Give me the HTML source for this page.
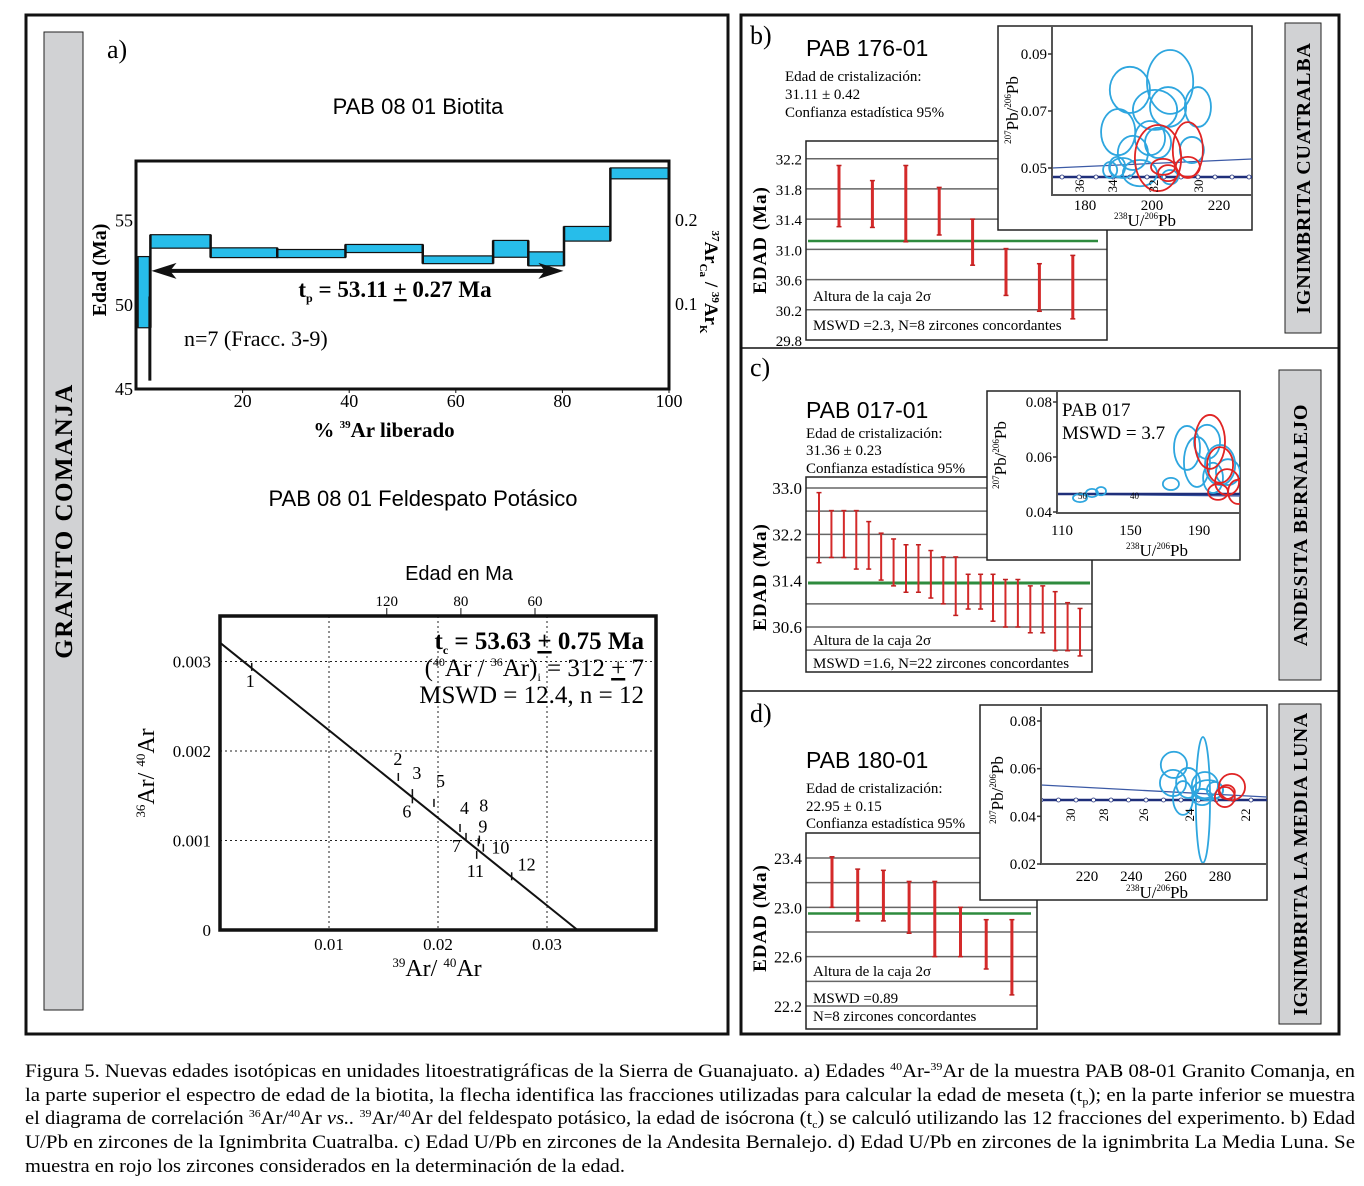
<!DOCTYPE html>
<html><head><meta charset="utf-8">
<style>
html,body{margin:0;padding:0;background:#fff;}
svg{display:block;font-family:"Liberation Serif",serif;}
</style></head>
<body>
<svg id="fig" width="1364" height="1186" viewBox="0 0 1364 1186" xmlns="http://www.w3.org/2000/svg">
<!-- panel frames -->
<rect x="26" y="15" width="702" height="1019" fill="none" stroke="#111" stroke-width="3"/>
<rect x="741" y="15" width="598" height="1019" fill="none" stroke="#111" stroke-width="3"/>
<line x1="741" y1="348" x2="1339" y2="348" stroke="#111" stroke-width="1.5"/>
<line x1="741" y1="691" x2="1339" y2="691" stroke="#111" stroke-width="1.5"/>
<!-- side bars -->
<rect x="44" y="32" width="39" height="978" fill="#d1d2d4" stroke="#222" stroke-width="1"/>
<text transform="translate(72,521) rotate(-90)" text-anchor="middle" font-size="25" font-weight="bold" letter-spacing="1.5">GRANITO COMANJA</text>
<rect x="1285" y="23" width="36" height="310" fill="#d1d2d4" stroke="#222"/>
<text transform="translate(1310,178) rotate(-90)" text-anchor="middle" font-size="20" font-weight="bold" letter-spacing="0.8">IGNIMBRITA CUATRALBA</text>
<rect x="1279" y="370" width="42" height="310" fill="#d1d2d4" stroke="#222"/>
<text transform="translate(1307,525) rotate(-90)" text-anchor="middle" font-size="20" font-weight="bold" letter-spacing="0.8">ANDESITA BERNALEJO</text>
<rect x="1279" y="704" width="42" height="320" fill="#d1d2d4" stroke="#222"/>
<text transform="translate(1307,864) rotate(-90)" text-anchor="middle" font-size="20" font-weight="bold" letter-spacing="0.5">IGNIMBRITA LA MEDIA LUNA</text>

<!-- panel a texts -->
<text x="107" y="58" font-size="26">a)</text>
<text x="418" y="114" text-anchor="middle" font-size="22" font-family="Liberation Sans,sans-serif">PAB 08 01 Biotita</text>
<text transform="translate(106,270) rotate(-90)" text-anchor="middle" font-size="20" font-weight="bold">Edad (Ma)</text>
<text transform="translate(705,282) rotate(90)" text-anchor="middle" font-size="19" font-weight="bold"><tspan font-size="11" dy="-7">37</tspan><tspan dy="7">Ar</tspan><tspan font-size="11" dy="5">Ca</tspan><tspan dy="-5"> / </tspan><tspan font-size="11" dy="-7">39</tspan><tspan dy="7">Ar</tspan><tspan font-size="11" dy="5">K</tspan></text>
<text x="384" y="437" text-anchor="middle" font-size="21" font-weight="bold">% <tspan font-size="11" dy="-9">39</tspan><tspan dy="9">Ar liberado</tspan></text>
<text x="423" y="506" text-anchor="middle" font-size="22" font-family="Liberation Sans,sans-serif">PAB 08 01 Feldespato Potásico</text>
<text x="459" y="580" text-anchor="middle" font-size="20" font-family="Liberation Sans,sans-serif">Edad en Ma</text>
<text transform="translate(154,773) rotate(-90)" text-anchor="middle" font-size="24"><tspan font-size="13" dy="-9">36</tspan><tspan dy="9">Ar/ </tspan><tspan font-size="13" dy="-9">40</tspan><tspan dy="9">Ar</tspan></text>
<text x="437" y="976" text-anchor="middle" font-size="24"><tspan font-size="13" dy="-9">39</tspan><tspan dy="9">Ar/ </tspan><tspan font-size="13" dy="-9">40</tspan><tspan dy="9">Ar</tspan></text>
<g id="spectrum"></g>
<g id="isochron"></g>
<text x="644" y="649" text-anchor="end" font-size="25" font-weight="bold">t<tspan font-size="12" dy="5">c</tspan><tspan dy="-5"> = 53.63 </tspan><tspan text-decoration="underline">+</tspan> 0.75 Ma</text>
<text x="644" y="676" text-anchor="end" font-size="25">(<tspan font-size="12" dy="-10">40</tspan><tspan dy="10">Ar / </tspan><tspan font-size="12" dy="-10">36</tspan><tspan dy="10">Ar)</tspan><tspan font-size="12" dy="5">i</tspan><tspan dy="-5"> = 312 </tspan><tspan text-decoration="underline">+</tspan> 7</text>
<text x="644" y="703" text-anchor="end" font-size="25">MSWD = 12.4, n = 12</text>

<!-- panel b texts -->
<text x="750" y="44" font-size="26">b)</text>
<text x="806" y="56" font-size="23" font-family="Liberation Sans,sans-serif">PAB 176-01</text>
<text x="785" y="81" font-size="15">Edad de cristalización:</text>
<text x="785" y="99" font-size="15">31.11 ± 0.42</text>
<text x="785" y="117" font-size="15">Confianza estadística 95%</text>
<text transform="translate(766,240) rotate(-90)" text-anchor="middle" font-size="19" font-weight="bold" letter-spacing="1">EDAD (Ma)</text>
<!-- panel c texts -->
<text x="750" y="376" font-size="26">c)</text>
<text x="806" y="418" font-size="23" font-family="Liberation Sans,sans-serif">PAB 017-01</text>
<text x="806" y="438" font-size="15">Edad de cristalización:</text>
<text x="806" y="455" font-size="15">31.36 ± 0.23</text>
<text x="806" y="473" font-size="15">Confianza estadística 95%</text>
<text transform="translate(766,577) rotate(-90)" text-anchor="middle" font-size="19" font-weight="bold" letter-spacing="1">EDAD (Ma)</text>
<!-- panel d texts -->
<text x="750" y="722" font-size="26">d)</text>
<text x="806" y="768" font-size="23" font-family="Liberation Sans,sans-serif">PAB 180-01</text>
<text x="806" y="793" font-size="15">Edad de cristalización:</text>
<text x="806" y="811" font-size="15">22.95 ± 0.15</text>
<text x="806" y="828" font-size="15">Confianza estadística 95%</text>
<text transform="translate(766,918) rotate(-90)" text-anchor="middle" font-size="19" font-weight="bold" letter-spacing="1">EDAD (Ma)</text>

<g id="barsB"></g>
<g id="barsC"></g>
<g id="barsD"></g>
<g id="insetB"></g>
<g id="insetC"></g>
<g id="insetD"></g>

<!-- caption -->
<g font-size="19">
<text x="25" y="1077" textLength="1330" lengthAdjust="spacingAndGlyphs">Figura 5. Nuevas edades isotópicas en unidades litoestratigráficas de la Sierra de Guanajuato. a) Edades <tspan font-size="11" dy="-7">40</tspan><tspan dy="7">Ar-</tspan><tspan font-size="11" dy="-7">39</tspan><tspan dy="7">Ar de la muestra PAB 08-01 Granito Comanja, en</tspan></text>
<text x="25" y="1101" textLength="1330" lengthAdjust="spacingAndGlyphs">la parte superior el espectro de edad de la biotita, la flecha identifica las fracciones utilizadas para calcular la edad de meseta (t<tspan font-size="11" dy="4">p</tspan><tspan dy="-4">); en la parte inferior se muestra</tspan></text>
<text x="25" y="1124" textLength="1330" lengthAdjust="spacingAndGlyphs">el diagrama de correlación <tspan font-size="11" dy="-7">36</tspan><tspan dy="7">Ar/</tspan><tspan font-size="11" dy="-7">40</tspan><tspan dy="7">Ar </tspan><tspan font-style="italic">vs..</tspan> <tspan font-size="11" dy="-7">39</tspan><tspan dy="7">Ar/</tspan><tspan font-size="11" dy="-7">40</tspan><tspan dy="7">Ar del feldespato potásico, la edad de isócrona (t</tspan><tspan font-size="11" dy="4">c</tspan><tspan dy="-4">) se calculó utilizando las 12 fracciones del experimento. b) Edad</tspan></text>
<text x="25" y="1148" textLength="1330" lengthAdjust="spacingAndGlyphs">U/Pb en zircones de la Ignimbrita Cuatralba. c) Edad U/Pb en zircones de la Andesita Bernalejo. d) Edad U/Pb en zircones de la ignimbrita La Media Luna. Se</text>
<text x="25" y="1172" textLength="600" lengthAdjust="spacingAndGlyphs">muestra en rojo los zircones considerados en la determinación de la edad.</text>
</g>
</svg>
<script>
// ---------- DATA ----------
// Age spectrum (biotite)
const specCumStart = [0.4, 2.7, 14.0, 26.5, 39.3, 53.8, 67.0, 73.6, 80.3, 89.0];
const specCumEnd   = [2.5, 14.0, 26.5, 39.3, 53.8, 67.0, 73.6, 80.3, 89.0, 100];
const specAgeHigh  = [52.87, 54.17, 53.39, 53.29, 53.59, 52.91, 53.83, 53.15, 54.66, 58.14];
const specAgeLow   = [48.64, 53.37, 52.81, 52.81, 53.11, 52.45, 52.83, 52.32, 53.79, 57.49];
const specXTicks = [20, 40, 60, 80, 100];
const specYTicks = [45, 50, 55];
const specY2Ticks = ["0.1", "0.2"];
// Isochron (K-feldspar)
const isoLabels = ["1","2","3","4","5","6","7","8","9","10","11","12"];
const isoX = [0.00291, 0.01636, 0.01765, 0.02202, 0.01963, 0.01765, 0.02257, 0.02379, 0.02370, 0.02416, 0.02355, 0.02676];
const isoY = [0.00294, 0.00171, 0.00153, 0.00114, 0.00142, 0.00146, 0.00104, 0.00101, 0.00098, 0.00092, 0.00084, 0.00060];
const isoYIntercept = 0.00321;
const isoXIntercept = 0.0328;
const isoXTicks = [0.01, 0.02, 0.03];
const isoYTicks = [0, 0.001, 0.002, 0.003];
const isoAgeTicks = [120, 80, 60];
const isoAgeTickX = [0.0153, 0.0221, 0.0289];
// Weighted mean B
const bLow  = [31.30, 31.29, 31.10, 31.19, 30.79, 30.39, 30.18, 30.08];
const bHigh = [32.11, 31.91, 32.11, 31.82, 31.40, 31.01, 30.81, 30.92];
const bMean = 31.11;
const bTicks = [29.8, 30.2, 30.6, 31.0, 31.4, 31.8, 32.2];
// Weighted mean C
const cLow  = [31.71,31.80,31.80,31.60,31.60,31.41,31.31,31.20,31.20,31.10,31.00,30.80,30.91,30.91,30.70,30.60,30.60,30.50,30.50,30.19,30.19,30.10];
const cHigh = [32.92,32.61,32.61,32.61,32.42,32.22,32.12,32.02,32.02,31.92,31.81,31.81,31.51,31.51,31.51,31.42,31.42,31.31,31.31,31.21,31.02,30.92];
const cMean = 31.36;
const cTicks = [30.6, 31.4, 32.2, 33.0];
const cGrid = [30.2, 30.6, 31.0, 31.8, 32.2, 32.6, 33.0];
// Weighted mean D
const dLow  = [23.00, 22.89, 22.89, 22.79, 22.60, 22.60, 22.50, 22.29];
const dHigh = [23.41, 23.31, 23.30, 23.21, 23.21, 23.00, 22.90, 22.90];
const dMean = 22.95;
const dTicks = [22.2, 22.6, 23.0, 23.4];
const dGrid = [22.2, 22.4, 22.6, 22.8, 23.0, 23.2, 23.4];
// Concordia insets: ellipses in data units (238U/206Pb, 207Pb/206Pb)
const ebX  = [193.4,205.4,204.8,200.9,213.7,189.9,199.4,201.8,211.9,194.3,189.6,191.3,187.5,196.4,205.4];
const ebY  = [.0774,.0802,.0714,.0704,.0714,.0626,.0605,.0588,.0563,.0553,.0504,.0500,.0493,.0482,.0468];
const ebRx = [6.0,6.9,5.4,6.6,3.9,5.1,4.5,3.9,3.6,4.5,2.4,3.9,2.1,5.1,2.4];
const ebRy = [.0081,.0112,.0070,.0070,.0070,.0081,.0060,.0053,.0046,.0060,.0035,.0035,.0028,.0046,.0025];
const rbX  = [201.8,210.7,203.3,210.7,204.8];
const rbY  = [.0535,.0563,.0504,.0504,.0482];
const rbRx = [6.9,4.5,3.6,3.6,3.0];
const rbRy = [.0116,.0098,.0028,.0035,.0028];
const ecX  = [120.5,127.5,132.8,173.6,183.0,188.8,194.7,202.3,198.2,206.9];
const ecY  = [.0451,.0469,.0476,.0502,.0633,.0582,.0655,.0571,.0524,.0545];
const ecRx = [4.1,3.5,2.9,4.7,7.6,7.6,7.6,8.8,5.8,7.0];
const ecRy = [.0015,.0015,.0015,.0022,.0080,.0091,.0062,.0073,.0055,.0047];
const rcX  = [196.4,202.3,206.4,212.8,201.1];
const rcY  = [.0655,.0571,.0509,.0473,.0473];
const rcRx = [8.8,7.6,7.0,5.8,5.8];
const rcRy = [.0098,.0065,.0047,.0044,.0029];
const edX  = [259.2,258.8,265.6,263.3,272.3,273.2,274.6,271.9,277.7];
const edY  = [.0616,.0540,.0540,.0477,.0469,.0531,.0510,.0481,.0510];
const edRx = [5.9,5.9,5.4,4.5,3.2,5.9,6.8,4.5,3.6];
const edRy = [.0055,.0055,.0063,.0071,.0264,.0055,.0042,.0034,.0034];
const rdX  = [285.4,282.2,283.1];
const rdY  = [.0523,.0481,.0502];
const rdRx = [5.9,4.5,3.6];
const rdRy = [.0055,.0042,.0029];

// ---------- HELPERS ----------
const NS = "http://www.w3.org/2000/svg";
function mk(tag, attrs, parent){ const e=document.createElementNS(NS,tag); for(const k in attrs) e.setAttribute(k,attrs[k]); parent.appendChild(e); return e; }
function lin(d0,d1,r0,r1){ return v => r0 + (v-d0)*(r1-r0)/(d1-d0); }

// ---------- SPECTRUM ----------
(function(){
  const g = document.getElementById('spectrum');
  const L=136,R=669,T=161,B=389;
  const sx = lin(0,100,L,R), sy = lin(45,58.55,B,T);
  for(let i=0;i<specCumStart.length;i++){
    const r = mk('rect',{x:sx(specCumStart[i]),y:sy(specAgeHigh[i]),width:sx(specCumEnd[i])-sx(specCumStart[i]),height:sy(specAgeLow[i])-sy(specAgeHigh[i]),fill:'#27bdea',stroke:'#111','stroke-width':1.2},g);
    
    
    if(i>0){
      const y1 = sy(Math.min(specAgeLow[i-1],specAgeLow[i])), y2 = sy(Math.max(specAgeHigh[i-1],specAgeHigh[i]));
      const c = mk('line',{x1:sx(specCumStart[i]),x2:sx(specCumStart[i]),y1:y1,y2:y2,stroke:'#111','stroke-width':2.5},g);
      
      
    }
  }
  const v = mk('line',{x1:sx(2.6),x2:sx(2.6),y1:sy(45.5),y2:sy(50.5),stroke:'#111','stroke-width':3},g);
  
  
  const fr = mk('rect',{x:L,y:T,width:R-L,height:B-T,fill:'none',stroke:'#111','stroke-width':3},g);
  
  
  specXTicks.forEach(t=>{
    const tl = mk('text',{x:sx(t),y:B+18,'text-anchor':'middle','font-size':18},g); tl.textContent=t;
    
    
    mk('line',{x1:sx(t),x2:sx(t),y1:B,y2:B+4,stroke:'#111'},g);
  });
  specYTicks.forEach(t=>{
    const tl = mk('text',{x:L-3,y:sy(t)+6,'text-anchor':'end','font-size':18},g); tl.textContent=t;
    
    
  });
  specY2Ticks.forEach((t,i)=>{
    const tl = mk('text',{x:R+6,y:[310,226][i],'font-size':18},g); tl.textContent=t;
    
    
  });
  const ay = sy(52.02);
  const ar = mk('line',{x1:sx(5),x2:sx(77),y1:ay,y2:ay,stroke:'#111','stroke-width':4},g);
  
  
  const h1 = mk('polygon',{points:`${sx(2.9)},${ay} ${sx(7.6)},${ay-8} ${sx(6.4)},${ay} ${sx(7.6)},${ay+8}`,fill:'#111'},g);
  
  
  const h2 = mk('polygon',{points:`${sx(80.2)},${ay} ${sx(75.5)},${ay-8} ${sx(76.7)},${ay} ${sx(75.5)},${ay+8}`,fill:'#111'},g);
  
  
  const tp = mk('text',{x:395,y:297,'text-anchor':'middle','font-size':23,'font-weight':'bold'},g);
  tp.innerHTML = 't<tspan font-size="12" dy="5">p</tspan><tspan dy="-5"> = 53.11 </tspan><tspan text-decoration="underline">+</tspan> 0.27 Ma';
  
  
  const nl = mk('text',{x:184,y:346,'font-size':22},g); nl.textContent='n=7 (Fracc. 3-9)';
  
  
})();

// ---------- ISOCHRON ----------
(function(){
  const g = document.getElementById('isochron');
  const L=220,R=656,T=616,B=930;
  const sx = lin(0,0.01,L,329), sy = lin(0,0.001,B,840.5);
  isoXTicks.forEach(t=>{
    const gl = mk('line',{x1:sx(t),x2:sx(t),y1:T,y2:B,stroke:'#222','stroke-dasharray':'2,3'},g);
    
    
    const tl = mk('text',{x:sx(t),y:B+20,'text-anchor':'middle','font-size':17},g); tl.textContent=t.toFixed(2);
    
    
  });
  isoYTicks.forEach(t=>{
    if(t>0){
      const gl = mk('line',{x1:L,x2:R,y1:sy(t),y2:sy(t),stroke:'#222','stroke-dasharray':'2,3'},g);
      
      
    }
    const tl = mk('text',{x:L-9,y:sy(t)+6,'text-anchor':'end','font-size':17},g); tl.textContent = t===0?'0':t.toFixed(3);
    
    
  });
  isoAgeTicks.forEach((t,i)=>{
    const x = sx(isoAgeTickX[i]);
    mk('line',{x1:x,x2:x,y1:T-8,y2:T,stroke:'#111'},g);
    const tl = mk('text',{x:x,y:T-10,'text-anchor':'middle','font-size':15},g); tl.textContent=t;
    
    
  });
  const ln = mk('line',{x1:sx(0),y1:sy(isoYIntercept),x2:sx(isoXIntercept),y2:sy(0),stroke:'#111','stroke-width':2},g);
  
  
  const off = [[-6,20],[-5,-12],[0,-14],[0,-14],[2,-16],[-10,18],[-14,15],[0,-28],[0,-10],[8,6],[-10,22],[6,-6]];
  isoX.forEach((xv,i)=>{
    const px=sx(xv), py=sy(isoY[i]);
    const m = mk('line',{x1:px,x2:px,y1:py-4,y2:py+4,stroke:'#111','stroke-width':1.5},g);
    
    
    const tl = mk('text',{x:px+off[i][0],y:py+off[i][1],'font-size':18},g); tl.textContent=isoLabels[i];
    
    
  });
  const fr = mk('rect',{x:L,y:T,width:R-L,height:B-T,fill:'none',stroke:'#111','stroke-width':3.5},g);
  
  
})();

// ---------- WEIGHTED MEAN BARS ----------
function drawBars(id, box, y0, y1, lows, highs, mean, grid, ticks, firstX, step, lbl, lw){
  const g = document.getElementById(id);
  const sy = lin(y0,y1,box.B,box.T);
  mk('rect',{x:box.L,y:box.T,width:box.R-box.L,height:box.B-box.T,fill:'#fff',stroke:'none'},g);
  grid.forEach(t=>{
    const gl = mk('line',{x1:box.L,x2:box.R,y1:sy(t),y2:sy(t),stroke:'#666','stroke-width':1.5},g);
    
    
  });
  ticks.forEach(t=>{
    const tl = mk('text',{x:box.L-4,y:sy(t)+6,'text-anchor':'end','font-size':box.fs},g); tl.textContent=t.toFixed(1);
    
    
  });
  const mn = mk('line',{x1:box.L+2,x2:box.mR,y1:sy(mean),y2:sy(mean),stroke:'#2e8b3e','stroke-width':box.mw},g);
  
  
  lows.forEach((lo,i)=>{
    const x = firstX + i*step;
    const b = mk('line',{x1:x,x2:x,y1:sy(highs[i]),y2:sy(lo),stroke:'#d42a2a','stroke-width':lw},g);
    
    
    mk('line',{x1:x-2.5,x2:x+2.5,y1:sy(highs[i]),y2:sy(highs[i]),stroke:'#c02020','stroke-width':1.5},g);
    mk('line',{x1:x-2.5,x2:x+2.5,y1:sy(lo),y2:sy(lo),stroke:'#c02020','stroke-width':1.5},g);
  });
  lbl.forEach(l=>{
    const t = mk('text',{x:box.L+7,y:l[1],'font-size':15},g); t.textContent=l[0];
    
    
  });
  const fr = mk('rect',{x:box.L,y:box.T,width:box.R-box.L,height:box.B-box.T,fill:'none',stroke:'#222','stroke-width':1.5},g);
  
  
}
drawBars('barsB',{L:806,R:1107,T:141,B:340,mR:1098,fs:15,mw:2.5},29.8,32.2+(158.7-141)/75.6,bLow,bHigh,bMean,[30.2,30.6,31.0,31.4,31.8,32.2],bTicks,839,33.4,
  [["Altura de la caja 2σ",301],["MSWD =2.3, N=8 zircones concordantes",330]],3);
drawBars('barsC',{L:806,R:1092,T:477,B:672,mR:1090,fs:17,mw:3},30.6-(672-627)/57.9,33.0+(488-477)/57.9,cLow,cHigh,cMean,cGrid,cTicks,819,12.43,
  [["Altura de la caja 2σ",645],["MSWD =1.6, N=22 zircones concordantes",668]],2);
drawBars('barsD',{L:806,R:1037,T:833,B:1029,mR:1031,fs:16,mw:2.5},22.2-(1029-1006)/123.3,23.4+(858-833)/123.3,dLow,dHigh,dMean,dGrid,dTicks,832,25.7,
  [["Altura de la caja 2σ",976],["MSWD =0.89",1003],["N=8 zircones concordantes",1021]],3);

// ---------- CONCORDIA INSETS ----------
function drawInset(id, box, ax, xd, yd, xticks, yticks, blue, red, conc, light, ageLbls, extra){
  const g = document.getElementById(id);
  const bg = mk('rect',{x:box.x,y:box.y,width:box.w,height:box.h,fill:'#fff',stroke:'#222','stroke-width':1.5},g);
  
  
  const sx = lin(xd[0],xd[1],xd[2],xd[3]), sy = lin(yd[0],yd[1],yd[2],yd[3]);
  const cp = mk('clipPath',{id:id+'clip'},g);
  mk('rect',{x:ax.L,y:ax.T,width:ax.R-ax.L,height:ax.B-ax.T},cp);
  const pg = mk('g',{'clip-path':`url(#${id}clip)`},g);
  const l1 = mk('line',{x1:ax.L,x2:ax.R,y1:light[0],y2:light[1],stroke:'#3c5aa6','stroke-width':1.3},pg);
  
  
  const l2 = mk('line',{x1:ax.L,x2:ax.R,y1:conc,y2:conc,stroke:'#1f2f7a','stroke-width':2.5},pg);
  
  
  for(let x=ax.L+extra.dot0;x<ax.R;x+=extra.dotStep){ mk('circle',{cx:x,cy:conc,r:2,fill:'#fff',stroke:'#1f2f7a','stroke-width':0.8},pg); }
  const drawE = (arr,color,nm)=>{
    arr[0].forEach((xv,i)=>{
      const e = mk('ellipse',{cx:sx(xv),cy:sy(arr[1][i]),rx:Math.abs(sx(arr[2][i])-sx(0)),ry:Math.abs(sy(arr[3][i])-sy(0)),fill:'none',stroke:color,'stroke-width':1.8},pg);
      
      
    });
  };
  drawE(blue,'#2ea6df','zircon-ellipse');
  drawE(red,'#e02424','zircon-ellipse-selected');
  ageLbls.forEach(a=>{
    const t = mk('text',{transform:`translate(${a[1]},${a[2]}) rotate(-90)`,'font-size':extra.agefs,'text-anchor':'middle'},g); t.textContent=a[0];
    
    
  });
  const af = mk('path',{d:`M${ax.L},${ax.T} L${ax.L},${ax.B} L${ax.R},${ax.B}`,fill:'none',stroke:'#555','stroke-width':2},g);
  
  
  xticks.forEach(t=>{
    const tl = mk('text',{x:sx(t),y:ax.B+extra.xtdy,'text-anchor':'middle','font-size':extra.fs},g); tl.textContent=t;
    
    
  });
  yticks.forEach(t=>{
    mk('line',{x1:ax.L-4,x2:ax.L,y1:sy(t),y2:sy(t),stroke:'#333','stroke-width':1.5},g);
    const tl = mk('text',{x:ax.L-5,y:sy(t)+5,'text-anchor':'end','font-size':extra.fs},g); tl.textContent=t.toFixed(2);
    
    
  });
  const xt = mk('text',{x:extra.xtx,y:extra.xty,'text-anchor':'middle','font-size':extra.fs+2},g);
  xt.innerHTML='<tspan font-size="9" dy="-7">238</tspan><tspan dy="7">U/</tspan><tspan font-size="9" dy="-7">206</tspan><tspan dy="7">Pb</tspan>';
  
  
  const yt = mk('text',{transform:`translate(${extra.ytx},${extra.yty}) rotate(-90)`,'text-anchor':'middle','font-size':extra.fs+2},g);
  yt.innerHTML='<tspan font-size="9" dy="-7">207</tspan><tspan dy="7">Pb/</tspan><tspan font-size="9" dy="-7">206</tspan><tspan dy="7">Pb</tspan>';
  
  
}
drawInset('insetB',{x:998,y:26,w:254,h:204},{L:1052,R:1252,T:26,B:195},[180,200,1085,1152],[0.05,0.09,168,54],[180,200,220],[0.05,0.07,0.09],
  [ebX,ebY,ebRx,ebRy],[rbX,rbY,rbRx,rbRy],177,[168,159],[["36",1084,186],["34",1117,186],["32",1158,186],["30",1203,186]],
  {dot0:10,dotStep:17,agefs:13,fs:15,xtdy:15,xtx:1145,xty:226,ytx:1018,yty:110});
drawInset('insetC',{x:987,y:391,w:253,h:169},{L:1057,R:1240,T:391,B:513},[110,190,1062,1199],[0.04,0.08,512,402],[110,150,190],[0.04,0.06,0.08],
  [ecX,ecY,ecRx,ecRy],[rcX,rcY,rcRx,rcRy],494,[494,496],[],
  {dot0:9999,dotStep:20,agefs:10,fs:15,xtdy:22,xtx:1157,xty:556,ytx:1006,yty:455});
drawInset('insetD',{x:980,y:705,w:287,h:195},{L:1041,R:1267,T:707,B:864},[220,280,1087,1220],[0.02,0.08,864,721],[220,240,260,280],[0.02,0.04,0.06,0.08],
  [edX,edY,edRx,edRy],[rdX,rdY,rdRx,rdRy],800,[785,797],[["30",1075,815],["28",1108,815],["26",1148,815],["24",1194,815],["22",1250,815]],
  {dot0:0,dotStep:17.5,agefs:13,fs:15,xtdy:17,xtx:1157,xty:898,ytx:1003,yty:790});
(function(){
  const g=document.getElementById('insetC');
  const t1=mk('text',{x:1062,y:416,'font-size':19},g); t1.textContent='PAB 017';
  
  
  const t2=mk('text',{x:1062,y:439,'font-size':19},g); t2.textContent='MSWD = 3.7';
  
  
  const t3=mk('text',{x:1078,y:499,'font-size':9},g); t3.textContent='50';
  
  
  const t4=mk('text',{x:1130,y:499,'font-size':9},g); t4.textContent='40';
  
  
})();
</script>
</body></html>
